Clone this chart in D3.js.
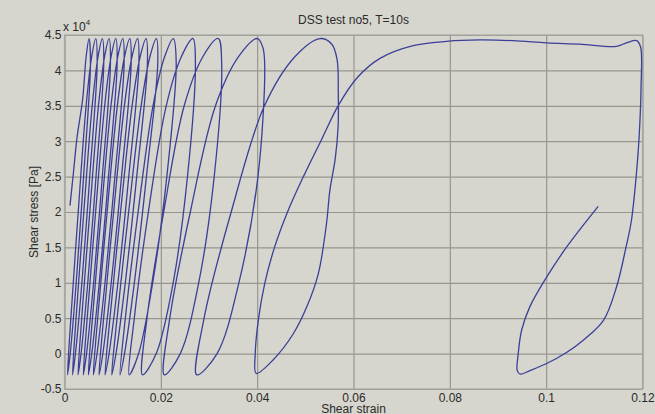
<!DOCTYPE html>
<html><head><meta charset="utf-8">
<script src="https://cdn.jsdelivr.net/npm/d3@7"></script>
<style>
html,body{margin:0;padding:0;background:#d6d6ce;}
svg{display:block;}
text{font-family:"Liberation Sans",Arial,Helvetica,sans-serif;fill:#2a2a2a;}
</style>
</head><body>
<svg id="chart" width="655" height="414"></svg>
<script>
// Strain [-], stress [x10^4 Pa]
const cycle01=[[0.00114,2.09],[0.00183,2.54],[0.00260,3.05],[0.00378,3.60],[0.00450,4.20],[0.00509,4.45],[0.00539,4.10],[0.00396,2.50],[0.00243,1.00],[0.00119,0.00],[0.00062,-0.30]];
const cycle02=[[0.00132,0.50],[0.00285,2.00],[0.00449,3.50],[0.00566,4.20],[0.00648,4.45],[0.00678,4.10],[0.00524,2.50],[0.00361,1.00],[0.00227,0.00],[0.00166,-0.30]];
const cycle03=[[0.00240,0.50],[0.00401,2.00],[0.00575,3.50],[0.00698,4.20],[0.00785,4.45],[0.00815,4.10],[0.00654,2.50],[0.00483,1.00],[0.00344,0.00],[0.00280,-0.30]];
const cycle04=[[0.00357,0.50],[0.00525,2.00],[0.00705,3.50],[0.00834,4.20],[0.00924,4.45],[0.00954,4.10],[0.00785,2.50],[0.00604,1.00],[0.00458,0.00],[0.00390,-0.30]];
const cycle05=[[0.00471,0.50],[0.00646,2.00],[0.00834,3.50],[0.00969,4.20],[0.01063,4.45],[0.01093,4.10],[0.00913,2.50],[0.00722,1.00],[0.00566,0.00],[0.00494,-0.30]];
const cycle06=[[0.00580,0.50],[0.00765,2.00],[0.00965,3.50],[0.01108,4.20],[0.01208,4.45],[0.01238,4.10],[0.01046,2.50],[0.00841,1.00],[0.00675,0.00],[0.00598,-0.30]];
const cycle07=[[0.00689,0.50],[0.00885,2.00],[0.01097,3.50],[0.01248,4.20],[0.01354,4.45],[0.01384,4.10],[0.01184,2.50],[0.00970,1.00],[0.00796,0.00],[0.00716,-0.30]];
const cycle08=[[0.00812,0.50],[0.01020,2.00],[0.01243,3.50],[0.01403,4.20],[0.01515,4.45],[0.01545,4.10],[0.01334,2.50],[0.01109,1.00],[0.00925,0.00],[0.00841,-0.30]];
const cycle09=[[0.00943,0.50],[0.01164,2.00],[0.01403,3.50],[0.01573,4.20],[0.01692,4.45],[0.01722,4.10],[0.01499,2.50],[0.01262,1.00],[0.01069,0.00],[0.00980,-0.30]];
const cycle10=[[0.01091,0.50],[0.01332,2.00],[0.01591,3.50],[0.01776,4.20],[0.01906,4.45],[0.01936,4.10],[0.01701,2.50],[0.01450,1.00],[0.01246,0.00],[0.01152,-0.30]];
const cycle11=[[0.01263,0.50],[0.01528,2.00],[0.01838,3.50],[0.02082,4.20],[0.02259,4.45],[0.02319,4.10],[0.02124,2.50],[0.01831,1.00],[0.01538,0.00],[0.01343,-0.30]];
const cycle12=[[0.01449,0.50],[0.01741,2.00],[0.02112,3.50],[0.02430,4.20],[0.02668,4.45],[0.02718,4.10],[0.02553,2.50],[0.02256,1.00],[0.01905,0.00],[0.01619,-0.30]];
const cycle13=[[0.01713,0.50],[0.02060,2.00],[0.02485,3.50],[0.02878,4.20],[0.03193,4.45],[0.03263,4.10],[0.03108,2.50],[0.02786,1.00],[0.02404,0.00],[0.02070,-0.30]];
const cycle14=[[0.02186,0.50],[0.02612,2.00],[0.03135,3.50],[0.03620,4.20],[0.04007,4.45],[0.04120,4.32],[0.04157,4.05],[0.04016,2.50],[0.03620,1.00],[0.03168,0.00],[0.02744,-0.30]];
const cycle15=[[0.02898,0.50],[0.03461,2.00],[0.04152,3.50],[0.04792,4.20],[0.05304,4.45],[0.05550,4.37],[0.05660,4.15],[0.05684,3.70],[0.05680,3.20],[0.05620,2.75],[0.05510,2.31],[0.05440,1.84],[0.05270,1.13],[0.05030,0.66],[0.04750,0.28],[0.04330,-0.09],[0.03980,-0.28]];
const finalCycle=[[0.03960,0.00],[0.04030,0.50],[0.04160,1.00],[0.04360,1.50],[0.04630,2.00],[0.04960,2.50],[0.05320,3.00],[0.05680,3.50],[0.06080,3.90],[0.06550,4.17],[0.07240,4.35],[0.07930,4.41],[0.08630,4.43],[0.09310,4.42],[0.10010,4.39],[0.10700,4.37],[0.11460,4.34],[0.11670,4.39],[0.11880,4.42],[0.11960,4.33],[0.11970,3.77],[0.11930,3.06],[0.11880,2.59],[0.11770,1.88],[0.11660,1.51],[0.11460,0.94],[0.11190,0.47],[0.10770,0.19],[0.10430,0.02],[0.10010,-0.14],[0.09660,-0.24],[0.09460,-0.29],[0.09400,-0.24],[0.09420,0.00],[0.09490,0.33],[0.09660,0.66],[0.10010,1.08],[0.10430,1.51],[0.11080,2.08]];

const xTicks=[0,0.02,0.04,0.06,0.08,0.1,0.12];
const yTicks=[-0.5,0,0.5,1,1.5,2,2.5,3,3.5,4,4.5];
const xLabels=["0","0.02","0.04","0.06","0.08","0.1","0.12"];
const yLabels=["-0.5","0","0.5","1","1.5","2","2.5","3","3.5","4","4.5"];
const titleText="DSS test no5, T=10s";
const xTitle="Shear strain";
const yTitle="Shear stress [Pa]";

const path=[].concat(cycle01,cycle02,cycle03,cycle04,cycle05,cycle06,cycle07,cycle08,cycle09,cycle10,cycle11,cycle12,cycle13,cycle14,cycle15,finalCycle);

const L=64.5,R=642.5,T=35,B=389;
const x=d3.scaleLinear().domain([0,0.12]).range([L,R]);
const y=d3.scaleLinear().domain([-0.5,4.5]).range([B,T]);
const svg=d3.select("#chart");

svg.append("rect").attr("x",0).attr("y",0).attr("width",655).attr("height",414).attr("fill","#d6d6ce");

const gx=svg.append("g").attr("transform",`translate(0,${B})`)
  .call(d3.axisBottom(x).tickValues(xTicks).tickSize(-(B-T)).tickPadding(4)
    .tickFormat((d,i)=>xLabels[i]));
const gy=svg.append("g").attr("transform",`translate(${L},0)`)
  .call(d3.axisLeft(y).tickValues(yTicks).tickSize(-(R-L)).tickPadding(3)
    .tickFormat((d,i)=>yLabels[i]));
[gx,gy].forEach(g=>{
  g.select(".domain").remove();
  g.selectAll(".tick line").attr("stroke","#96968f").attr("stroke-width",1.2);
  g.selectAll(".tick text").attr("font-size",12).attr("fill","#2a2a2a")
    .attr("font-family","'Liberation Sans',Arial,sans-serif");
});

svg.append("rect").attr("x",L).attr("y",T).attr("width",R-L).attr("height",B-T)
  .attr("fill","none").attr("stroke","#a8a8a2").attr("stroke-width",1.2);

const line=d3.line().x(d=>x(d[0])).y(d=>y(d[1])).curve(d3.curveCatmullRom.alpha(0.5));
svg.append("path").datum(path).attr("d",line).attr("fill","none")
  .attr("stroke","#3b3f98").attr("stroke-width",1.3).attr("stroke-linejoin","round");

svg.append("text").attr("x",(L+R)/2).attr("y",24).attr("text-anchor","middle")
  .attr("font-size",12).text(titleText);
const mult=svg.append("text").attr("x",63).attr("y",31).attr("font-size",12);
mult.append("tspan").text("x 10");
mult.append("tspan").attr("font-size",8).attr("dy",-6).text("4");
svg.append("text").attr("x",(L+R)/2).attr("y",412.5).attr("text-anchor","middle")
  .attr("font-size",12).text(xTitle);
svg.append("text").attr("transform",`translate(38,${(T+B)/2}) rotate(-90)`)
  .attr("text-anchor","middle").attr("font-size",12).text(yTitle);
</script>
</body></html>
